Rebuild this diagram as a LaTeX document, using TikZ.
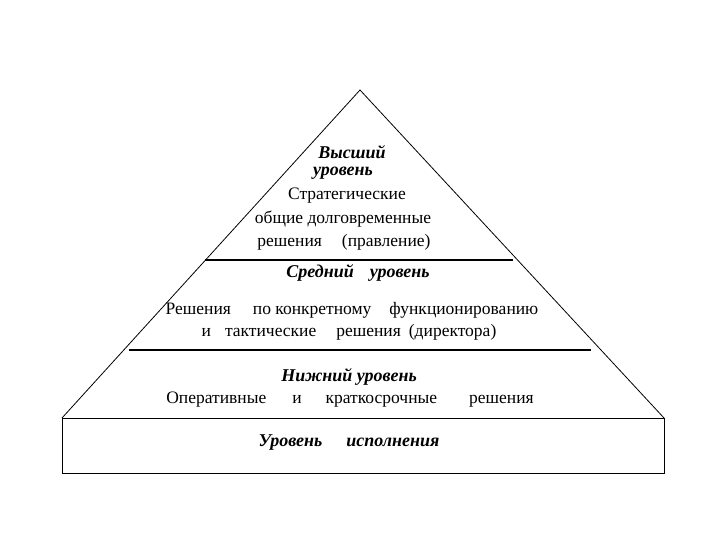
\documentclass[tikz,border=0pt]{standalone}
\usepackage{fontspec}
\setmainfont{Liberation Serif}
\begin{document}
\begin{tikzpicture}[x=1pt,y=-1pt,
  txt/.style={inner sep=0pt,font=\fontsize{17.5}{19}\selectfont},
  hd/.style={inner sep=0pt,font=\fontsize{18}{20}\selectfont\bfseries\itshape},
  sep/.style={line width=1.6pt}]
\useasboundingbox (0,0) rectangle (720,540);
\coordinate (apex) at (360,90);
\coordinate (bl) at (62,418);
\coordinate (br) at (664,418);
\draw[line width=0.8pt] (bl) -- (apex) -- (br);
\node[draw,line width=0.8pt,minimum width=602pt,minimum height=55pt,inner sep=0pt] (base) at (363,445.5) {};
\draw[sep] (205,260) -- (513,260);
\draw[sep] (129,350) -- (591,350);
\node[hd] (h1) at (352,152) {Высший};
\node[hd] (h2) at (343,173) {уровень};
\node[txt] (t1) at (347,196) {Стратегические};
\node[txt] (t2) at (343,219) {общие долговременные};
\node[txt] (t3) at (344,242) {решения\hspace{20pt}(правление)};
\node[hd] (h3) at (358,273) {Средний\hspace{16pt}уровень};
\node[txt] (t4) at (352,310) {Решения\hspace{22pt}по конкретному\hspace{18pt}функционированию};
\node[txt] (t5) at (349,332) {и\hspace{14pt}тактические\hspace{20pt}решения\hspace{8pt}(директора)};
\node[hd] (h4) at (349,377) {Нижний уровень};
\node[txt] (t6) at (350,400) {Оперативные\hspace{26pt}и\hspace{24pt}краткосрочные\hspace{32pt}решения};
\node[hd] (h5) at (349,443) {Уровень\hspace{24pt}исполнения};
\end{tikzpicture}
\end{document}
